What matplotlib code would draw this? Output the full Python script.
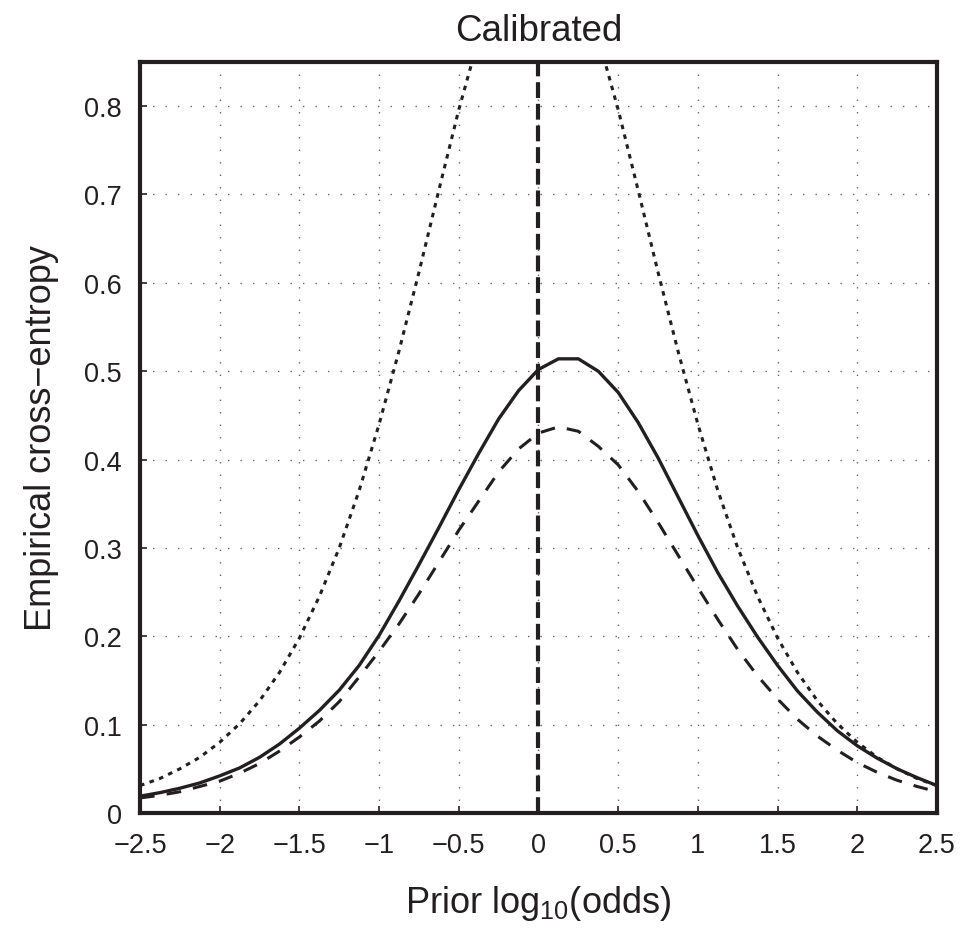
import matplotlib.pyplot as plt

# prior log10 odds sampled every 0.125
prior_logodds = [-2.5, -2.375, -2.25, -2.125, -2.0, -1.875, -1.75, -1.625, -1.5,
                 -1.375, -1.25, -1.125, -1.0, -0.875, -0.75, -0.625, -0.5, -0.375,
                 -0.25, -0.125, 0.0, 0.125, 0.25, 0.375, 0.5, 0.625, 0.75, 0.875,
                 1.0, 1.125, 1.25, 1.375, 1.5, 1.625, 1.75, 1.875, 2.0, 2.125,
                 2.25, 2.375, 2.5]

# actual system ECE (solid)
ece_actual = [0.019, 0.023, 0.028, 0.034, 0.042, 0.051, 0.063, 0.078, 0.096,
              0.116, 0.139, 0.167, 0.201, 0.240, 0.281, 0.323, 0.366, 0.407,
              0.446, 0.478, 0.502, 0.514, 0.514, 0.500, 0.476, 0.442, 0.402,
              0.358, 0.314, 0.272, 0.234, 0.199, 0.167, 0.138, 0.114, 0.093,
              0.076, 0.062, 0.050, 0.040, 0.031]

# after PAV calibration (dashed)
ece_min = [0.017, 0.020, 0.024, 0.030, 0.036, 0.045, 0.056, 0.070, 0.086,
           0.104, 0.126, 0.154, 0.183, 0.214, 0.248, 0.284, 0.320, 0.353,
           0.386, 0.412, 0.430, 0.437, 0.432, 0.415, 0.394, 0.364, 0.329,
           0.292, 0.255, 0.219, 0.185, 0.155, 0.129, 0.106, 0.087, 0.071,
           0.057, 0.046, 0.037, 0.030, 0.024]

# neutral reference (dotted)
ece_ref = [0.031, 0.039, 0.050, 0.063, 0.080, 0.101, 0.127, 0.159, 0.198,
           0.245, 0.300, 0.365, 0.440, 0.523, 0.612, 0.705, 0.796, 0.877,
           0.943, 0.985, 1.000, 0.985, 0.943, 0.877, 0.796, 0.705, 0.612,
           0.523, 0.440, 0.365, 0.300, 0.245, 0.198, 0.159, 0.127, 0.101,
           0.080, 0.063, 0.050, 0.039, 0.031]

x_ticks = [-2.5, -2, -1.5, -1, -0.5, 0, 0.5, 1, 1.5, 2, 2.5]
y_ticks = [0, 0.1, 0.2, 0.3, 0.4, 0.5, 0.6, 0.7, 0.8]

plt.rcParams['font.family'] = ['Liberation Sans', 'DejaVu Sans']
ink = '#231f20'

fig = plt.figure(figsize=(9.61, 9.37), dpi=100)
ax = fig.add_axes([0.1457, 0.1313, 0.8293, 0.8015])

ax.plot(prior_logodds, ece_ref, color=ink, lw=2.2, linestyle=(0, (1.5, 1.8)))
ax.plot(prior_logodds, ece_actual, color=ink, lw=2.4)
ax.plot(prior_logodds, ece_min, color=ink, lw=2.2, linestyle=(0, (4.8, 4.0)))
ax.axvline(0, color=ink, lw=3.0, linestyle=(0, (3.8, 1.4)))

ax.set_xlim(-2.5, 2.5)
ax.set_ylim(0, 0.85)
ax.set_xticks(x_ticks)
ax.set_xticklabels([f"{t:g}".replace('-', '\u2212') for t in x_ticks])
ax.set_yticks(y_ticks)
ax.set_yticklabels([f"{t:g}" for t in y_ticks])

ax.grid(True, color='#666666', lw=1.0, linestyle=(0, (1, 8)))
ax.tick_params(direction='in', length=5, width=1.2, labelsize=19.5, colors=ink)
ax.tick_params(axis='x', pad=14)
ax.tick_params(axis='y', pad=13)
for sp in ax.spines.values():
    sp.set_linewidth(3)
    sp.set_color(ink)

ax.set_title("Calibrated", fontsize=26.5, color=ink, pad=16)
ax.set_xlabel(r"Prior log$_{\mathregular{10}}$(odds)", fontsize=26, color=ink, labelpad=18)
ax.set_ylabel("Empirical cross\u2212entropy", fontsize=26, color=ink, labelpad=18)

plt.savefig("out.png", dpi=100)
